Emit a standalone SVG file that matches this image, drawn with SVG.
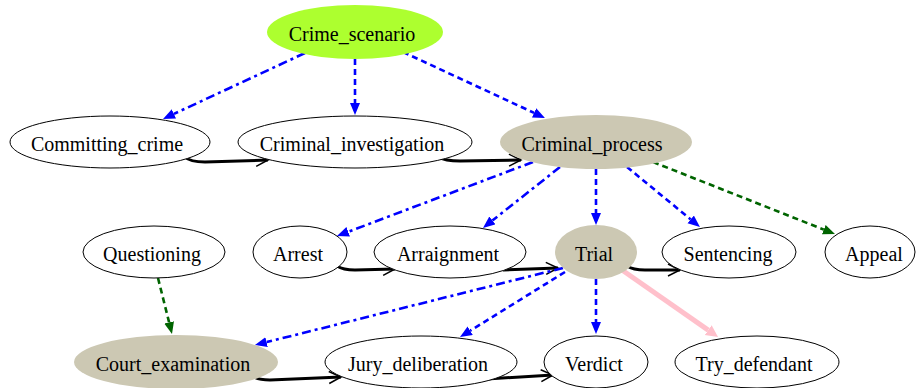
<svg xmlns="http://www.w3.org/2000/svg" width="918" height="388" viewBox="0 0 918 388">
<style>
.n ellipse{fill:#ffffff;stroke:#000000;stroke-width:1}
.n.tan ellipse{fill:#ccc8b3;stroke:none}
.n.green ellipse{fill:#adff2f;stroke:none}
.n text{font-family:"Liberation Serif","Times New Roman",serif;font-size:20px;fill:#000000;text-anchor:middle}
.e{fill:none}
.blue{stroke:#0000ff;stroke-width:2.6}
.dgreen{stroke:#006400;stroke-width:2.6}
.blk{stroke:#000000;stroke-width:3}
.pink{stroke:#ffc0cb;stroke-width:5}
.dash{stroke-dasharray:6 4}
.dashdot{stroke-dasharray:9 4 3 4}
</style>
<defs>
<marker id="ab" markerUnits="userSpaceOnUse" markerWidth="14" markerHeight="12" refX="0" refY="5" orient="auto"><path d="M0,0 L12,5 L0,10 Z" fill="#0000ff"/></marker>
<marker id="ag" markerUnits="userSpaceOnUse" markerWidth="14" markerHeight="12" refX="0" refY="5" orient="auto"><path d="M0,0 L12,5 L0,10 Z" fill="#006400"/></marker>
<marker id="ap" markerUnits="userSpaceOnUse" markerWidth="14" markerHeight="14" refX="0" refY="6" orient="auto"><path d="M0,0 L12,6 L0,12 Z" fill="#ffc0cb"/></marker>
<marker id="av" markerUnits="userSpaceOnUse" markerWidth="16" markerHeight="16" refX="13" refY="7" orient="auto"><path d="M1,1 L13,7 L1,13" fill="none" stroke="#000000" stroke-width="1.5"/></marker>
</defs>

<g id="edges">
<path class="e blue dashdot" d="M305,53 L173.9,113.9" marker-end="url(#ab)"/>
<path class="e blue dash" d="M355,59 L355,103" marker-end="url(#ab)"/>
<path class="e blue dash" d="M403,52 L534.1,112.9" marker-end="url(#ab)"/>
<path class="e blk" d="M185,157 Q190,162 205,162 L268,160" marker-end="url(#av)"/>
<path class="e blk" d="M438,157 Q445,161 460,161 L521,160" marker-end="url(#av)"/>
<path class="e blue dashdot" d="M533,162 L348.2,231.8" marker-end="url(#ab)"/>
<path class="e blue dashdot" d="M560,167 L492.4,220.5" marker-end="url(#ab)"/>
<path class="e blue dash" d="M596,169 L596,213" marker-end="url(#ab)"/>
<path class="e blue dash" d="M627,167 L690.7,219.4" marker-end="url(#ab)"/>
<path class="e dgreen dash" d="M653,162 L823.8,229.6" marker-end="url(#ag)"/>
<path class="e dgreen dash" d="M158,278 L169.1,322.4" marker-end="url(#ag)"/>
<path class="e blk" d="M337,266 Q343,270 355,270 L395,269" marker-end="url(#av)"/>
<path class="e blk" d="M503,270 L558,268" marker-end="url(#av)"/>
<path class="e blk" d="M627,266 Q633,270 645,270 L680,270" marker-end="url(#av)"/>
<path class="e blue dashdot" d="M563,268 L266.6,342.1" marker-end="url(#ab)"/>
<path class="e blue dash" d="M565,272 L470.2,330.7" marker-end="url(#ab)"/>
<path class="e blue dash" d="M596,279 L596,322" marker-end="url(#ab)"/>
<path class="e pink" d="M622,270 L708.2,330.1" marker-end="url(#ap)"/>
<path class="e blk" d="M252,376 Q258,380 270,380 L341,377" marker-end="url(#av)"/>
<path class="e blk" d="M487,379 L553,375" marker-end="url(#av)"/>
</g>

<g id="Crime_scenario" class="n green"><ellipse cx="355" cy="32" rx="88" ry="27"/><text x="352" y="41">Crime_scenario</text></g>
<g id="Committing_crime" class="n"><ellipse cx="110" cy="142" rx="100" ry="26"/><text x="107" y="151">Committing_crime</text></g>
<g id="Criminal_investigation" class="n"><ellipse cx="355" cy="142" rx="117" ry="26"/><text x="352" y="151">Criminal_investigation</text></g>
<g id="Criminal_process" class="n tan"><ellipse cx="596" cy="142" rx="96" ry="27"/><text x="592" y="151">Criminal_process</text></g>
<g id="Questioning" class="n"><ellipse cx="154" cy="252" rx="71" ry="26"/><text x="152" y="261">Questioning</text></g>
<g id="Arrest" class="n"><ellipse cx="300" cy="252" rx="47" ry="26"/><text x="298" y="261">Arrest</text></g>
<g id="Arraignment" class="n"><ellipse cx="450" cy="252" rx="76" ry="26"/><text x="448" y="261">Arraignment</text></g>
<g id="Trial" class="n tan"><ellipse cx="596" cy="252" rx="41" ry="27"/><text x="594" y="261">Trial</text></g>
<g id="Sentencing" class="n"><ellipse cx="729" cy="252" rx="67" ry="26"/><text x="728" y="261">Sentencing</text></g>
<g id="Appeal" class="n"><ellipse cx="870" cy="252" rx="45" ry="26"/><text x="874" y="261">Appeal</text></g>
<g id="Court_examination" class="n tan"><ellipse cx="176" cy="362" rx="102" ry="27"/><text x="173" y="371">Court_examination</text></g>
<g id="Jury_deliberation" class="n"><ellipse cx="421" cy="362" rx="96" ry="26"/><text x="418" y="371">Jury_deliberation</text></g>
<g id="Verdict" class="n"><ellipse cx="596" cy="362" rx="52" ry="26"/><text x="594" y="371">Verdict</text></g>
<g id="Try_defendant" class="n"><ellipse cx="757" cy="362" rx="82" ry="26"/><text x="754" y="371">Try_defendant</text></g>
</svg>
